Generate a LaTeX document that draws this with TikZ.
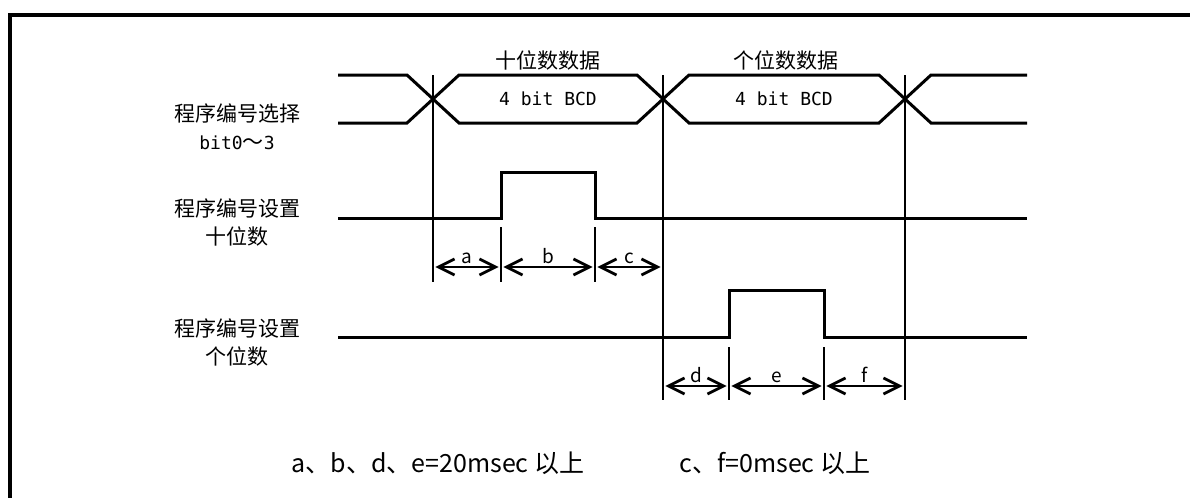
\documentclass[tikz,border=0pt]{standalone}
\usepackage{fontspec}
\setmainfont{Noto Sans CJK SC}
\newfontfamily\monofont{DejaVu Sans Mono}
\usetikzlibrary{arrows.meta,positioning}

\begin{document}
\begin{tikzpicture}[x=0.5pt, y=-0.5pt,
    sig/.style={line width=1.5pt},
    vline/.style={line width=0.6pt},
    arr/.style={{Straight Barb[length=8pt,width=8pt]}-{Straight Barb[length=8pt,width=8pt]}, line width=1.4pt, shorten <=1.2pt, shorten >=1.2pt},
    lbl/.style={align=center, font=\fontsize{10.5}{14}\selectfont},
    bus/.style={font=\monofont\fontsize{9}{10}\selectfont},
    seg/.style={above, inner sep=1pt, font=\fontsize{9.5}{10}\selectfont},
    note/.style={font=\fontsize{12.5}{14}\selectfont}
]
\useasboundingbox (0,0) rectangle (1190,498);
\draw[line width=2pt] (10,510) -- (10,15) -- (1200,15);

% labels
\node[lbl] (selLbl) at (237,127) {程序编号选择\\{\monofont\fontsize{9}{10}\selectfont bit0}～{\monofont\fontsize{9}{10}\selectfont 3}};
\node[lbl] (tenLbl) at (237,222.5) {程序编号设置\\十位数};
\node[lbl] (oneLbl) at (237,342.5) {程序编号设置\\个位数};
\node[lbl] (tenData) at (548,60) {十位数数据};
\node[lbl] (oneData) at (786,60) {个位数数据};
\node[bus] (tenBcd) at (548,99) {4 bit BCD};
\node[bus] (oneBcd) at (784,99) {4 bit BCD};

% bus bit0~3
\draw[sig] (338,75) -- (407,75) -- (459,123) -- (637,123) -- (689,75) -- (879,75) -- (931,123) -- (1027,123);
\draw[sig] (338,123) -- (407,123) -- (459,75) -- (637,75) -- (689,123) -- (879,123) -- (931,75) -- (1027,75);

% strobes
\draw[sig] (338,218) -- (501,218) -- (501,172) -- (595,172) -- (595,218) -- (1027,218);
\draw[sig] (338,337) -- (729,337) -- (729,290) -- (824,290) -- (824,337) -- (1027,337);

% timing lines
\draw[vline] (433,75) -- (433,282);
\draw[vline] (663,75) -- (663,400);
\draw[vline] (905,75) -- (905,400);
\draw[vline] (501,227) -- (501,282);
\draw[vline] (595,227) -- (595,282);
\draw[vline] (729,347) -- (729,400);
\draw[vline] (824,347) -- (824,400);

\foreach \n/\x in {0/433,1/501,2/595,3/663}
  \coordinate (p\n) at (\x,267);
\foreach \n/\x in {0/663,1/729,2/824,3/905}
  \coordinate (q\n) at (\x,386);

\draw[arr] (p0) -- node[seg] {a} (p1);
\draw[arr] (p1) -- node[seg] {b} (p2);
\draw[arr] (p2) -- node[seg] {c} (p3);
\draw[arr] (q0) -- node[seg] {d} (q1);
\draw[arr] (q1) -- node[seg] {e} (q2);
\draw[arr] (q2) -- node[seg] {f} (q3);

\node[note] (limA) at (438,463) {a、b、d、e=20msec 以上};
\node[note] (limB) at (775,463) {c、f=0msec 以上};
\end{tikzpicture}
\end{document}
